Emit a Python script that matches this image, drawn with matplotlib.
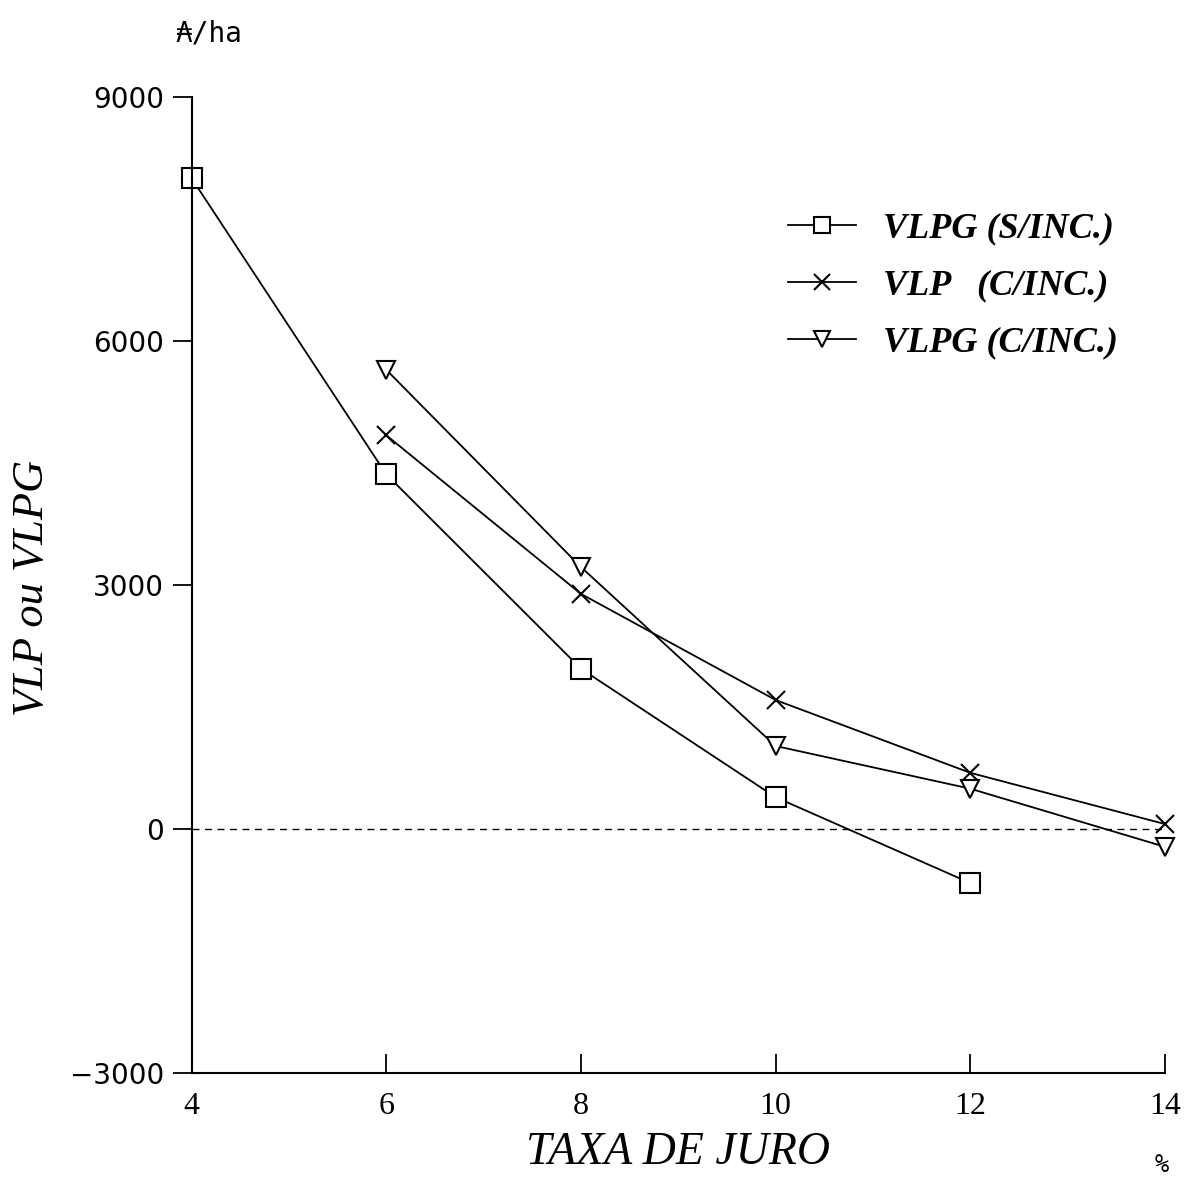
import matplotlib
matplotlib.use("Agg")
import matplotlib.pyplot as plt

# taxa de juro (%)
x_s = [4, 6, 8, 10, 12]
x_c = [6, 8, 10, 12, 14]

# valores em A/ha
vlpg_s_inc = [8000, 4360, 1970, 390, -665]
vlp_c_inc = [4840, 2890, 1585, 690, 60]
vlpg_c_inc = [5645, 3220, 1020, 495, -220]

labels = ["VLPG (S/INC.)", "VLP   (C/INC.)", "VLPG (C/INC.)"]
x_ticks = [4, 6, 8, 10, 12, 14]
y_ticks = [-3000, 0, 3000, 6000, 9000]

fig = plt.figure(figsize=(11.9, 11.86), dpi=100)
ax = fig.add_axes([0.161, 0.0953, 0.818, 0.823])

lw = 1.3
ax.plot(x_s, vlpg_s_inc, color="black", lw=lw, marker="s", ms=15,
        mfc="white", mec="black", mew=1.5, label=labels[0], clip_on=False)
ax.plot(x_c, vlp_c_inc, color="black", lw=lw, marker="x", ms=13,
        mew=1.5, label=labels[1], clip_on=False)
ax.plot(x_c, vlpg_c_inc, color="black", lw=lw, marker="v", ms=13,
        mfc="white", mec="black", mew=1.5, label=labels[2], clip_on=False)

# linha do zero
ax.plot([x_ticks[0], x_ticks[-1]], [0, 0], color="black", lw=1.0,
        ls=(0, (5, 4)), zorder=0)

ax.set_xlim(4, 14)
ax.set_ylim(-3000, 9000)
ax.spines["top"].set_visible(False)
ax.spines["right"].set_visible(False)
ax.spines["left"].set_linewidth(1.5)
ax.spines["bottom"].set_linewidth(1.5)

ax.set_xticks(x_ticks)
ax.set_yticks(y_ticks)
ax.set_yticklabels([str(v).replace("-", "\u2212") for v in y_ticks],
                   family="DejaVu Sans", fontsize=20)
ax.set_xticklabels([str(v) for v in x_ticks], family="Liberation Serif",
                   fontsize=23)
ax.tick_params(axis="x", direction="in", length=14, width=1.3, pad=14)
ax.tick_params(axis="y", direction="out", length=14, width=1.3, pad=6)

ax.set_xlabel("TAXA DE JURO", family="Liberation Serif", style="italic",
              fontsize=33)
ax.xaxis.set_label_coords(0.5, -0.06)
ax.set_ylabel("VLP ou VLPG", family="Liberation Serif", style="italic",
              fontsize=32)
ax.yaxis.set_label_coords(-0.143, 0.497)

fig.text(0.147, 0.972, "\u20b3/ha", family=["DejaVu Sans Mono", "DejaVu Sans"],
         fontsize=20, ha="left", va="center")
fig.text(0.976, 0.018, "%", family="DejaVu Sans Mono", fontsize=17,
         ha="center", va="center")

leg = ax.legend(loc="upper left", bbox_to_anchor=(0.579, 0.915), frameon=False,
                handlelength=1.9, handletextpad=0.75, labelspacing=0.65,
                prop={"family": "Liberation Serif", "style": "italic",
                      "weight": "bold", "size": 26})
for h in leg.legend_handles:
    h.set_markersize(11)

fig.savefig("out.png", dpi=100)
